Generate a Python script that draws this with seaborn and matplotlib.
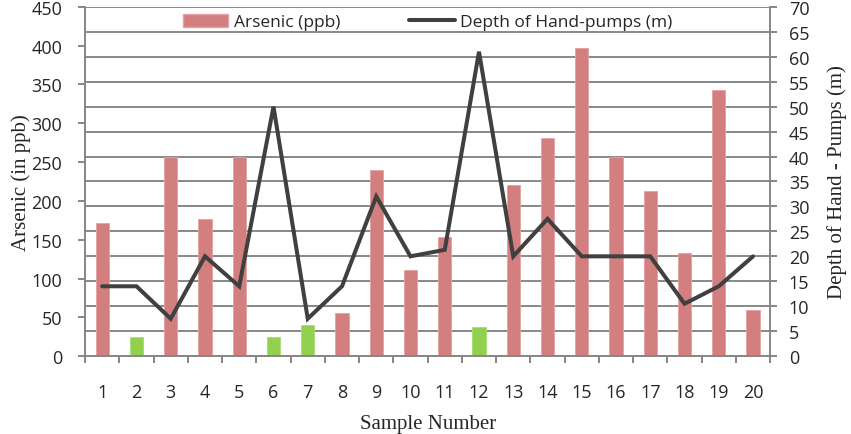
import pandas as pd
import numpy as np

import seaborn as sns
import matplotlib.pyplot as plt
from matplotlib.patches import Patch
from matplotlib.lines import Line2D

samples = [str(i) for i in range(1, 21)]
arsenic = [171, 25, 257, 177, 257, 25, 40, 56, 240, 111,
           154, 37, 220, 281, 397, 257, 213, 133, 343, 59]
depth = [14, 14, 7.5, 20, 14, 50, 7.5, 14, 32, 20,
         21.3, 61, 20, 27.5, 20, 20, 20, 10.5, 14, 20]
limit = 50  # bars under this value are drawn green

red = '#D47F7F'
green = '#92D050'
grey = '#868686'

df = pd.DataFrame({'sample': samples, 'arsenic': arsenic, 'depth': depth})
df['pos'] = np.arange(len(df))
colors = [green if v < limit else red for v in df.arsenic]

sns.set_style('white')
plt.rcParams['font.family'] = ['Open Sans', 'DejaVu Sans']

fig, ax = plt.subplots(figsize=(8.51, 4.35), dpi=100)
fig.subplots_adjust(left=0.1, right=0.905, top=0.982, bottom=0.179)

ax2 = ax.twinx()
# gridlines follow the right-hand (depth) axis, as in the original
ax2.set_zorder(0)
ax.set_zorder(1)
ax.patch.set_visible(False)

sns.barplot(data=df, x='sample', y='arsenic', hue='sample', palette=colors,
            width=0.39, legend=False, ax=ax, linewidth=0.6, saturation=1)
for bar, c in zip(ax.patches, colors):
    bar.set_edgecolor('#E8A0A0' if c == red else '#A6DC70')

ax.set_ylim(0, 450)
ax.set_yticks(range(0, 451, 50))
ax.set_xlim(-0.5, len(df) - 0.5)

ax2.set_ylim(0, 70)
ax2.set_yticks(range(0, 71, 5))
ax2.grid(axis='y', color='#888888', lw=1.4)
ax2.set_axisbelow(True)

# depth line on its own transparent axes so it sits above the bars
line_ax = ax.twinx()
line_ax.set_zorder(2)
line_ax.patch.set_visible(False)
sns.lineplot(data=df, x='pos', y='depth', ax=line_ax, color='#404040', lw=2.9)
for ln in line_ax.lines:
    ln.set_solid_joinstyle('miter')
line_ax.set_ylim(0, 70)
line_ax.set_xlim(-0.5, len(df) - 0.5)
line_ax.axis('off')

for a in (ax, ax2):
    for s in a.spines.values():
        s.set_visible(False)
ax.spines['left'].set_visible(True)
ax.spines['bottom'].set_visible(True)
ax2.spines['right'].set_visible(True)
for s in (ax.spines['left'], ax.spines['bottom'], ax2.spines['right']):
    s.set_color(grey)
    s.set_linewidth(1.4)

ax.tick_params(axis='y', which='both', direction='out', length=5, width=1.4,
               color=grey, labelsize=13, left=True, pad=11.5)
ax2.tick_params(axis='y', direction='out', length=5, width=1.4, color=grey,
                labelsize=13, right=True, pad=8.5)
ax.set_xticks(np.arange(-0.5, len(df), 1), minor=False)
ax.set_xticklabels([])
ax.set_xticks(df.pos, minor=True)
ax.set_xticklabels(samples, minor=True)
ax.tick_params(axis='x', which='major', direction='out', length=5, width=1.4,
               color=grey, bottom=True)
ax.tick_params(axis='x', which='minor', length=0, labelsize=13, pad=19.5)

serif = ['Liberation Serif', 'DejaVu Serif']
ax.set_xlabel('Sample Number', family=serif, fontsize=15, labelpad=9)
ax.set_ylabel('Arsenic (in ppb)', family=serif, fontsize=15, labelpad=0)
ax2.set_ylabel('Depth of Hand - Pumps (m)', family=serif, fontsize=15, labelpad=13)

handles = [Patch(facecolor=red, edgecolor='#E8A0A0'),
           Line2D([0], [0], color='#404040', lw=2.9)]
ax.legend(handles, ['Arsenic (ppb)', 'Depth of Hand-pumps (m)'],
          loc='upper center', bbox_to_anchor=(0.5, 1.025), ncol=2,
          frameon=False, fontsize=12.5, handlelength=2.6, handleheight=0.8,
          columnspacing=4.0, handletextpad=0.3)

fig.savefig('out.png', dpi=100)
